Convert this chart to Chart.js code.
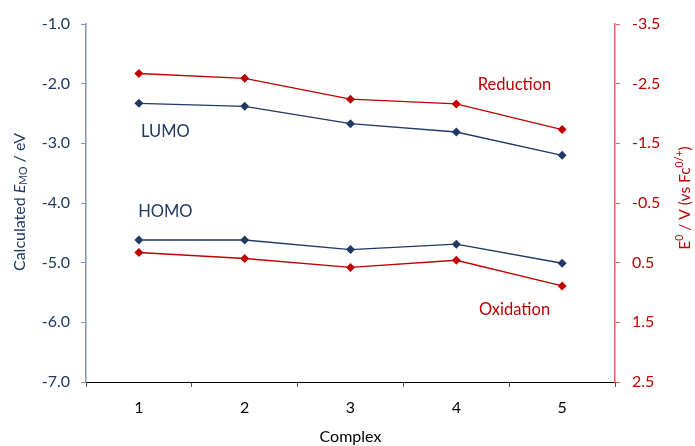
<!DOCTYPE html>
<html lang="en">
<head>
<meta charset="UTF-8">
<title>Calculated MO energies vs redox potentials</title>
<script src="https://cdn.jsdelivr.net/npm/chart.js"></script>
<style>
  html, body { margin: 0; padding: 0; background: #fff; }
  #wrap { width: 695px; height: 446px; }
</style>
</head>
<body>
<div id="wrap"><canvas id="chart" width="695" height="446"></canvas></div>
<script>
const complexes = ['1', '2', '3', '4', '5'];
const lumo = [-2.33, -2.38, -2.67, -2.81, -3.20];
const homo = [-4.62, -4.62, -4.78, -4.69, -5.01];
const reduction = [-2.67, -2.59, -2.24, -2.16, -1.73];
const oxidation = [0.33, 0.43, 0.58, 0.46, 0.89];
const leftTicks = [-1.0, -2.0, -3.0, -4.0, -5.0, -6.0, -7.0];
const rightTicks = [-3.5, -2.5, -1.5, -0.5, 0.5, 1.5, 2.5];

const NAVY = '#1f3864';
const RED = '#c00000';
const FONT = 'Lato, "Open Sans", sans-serif';

// draws a list of text runs [text, size, dy, italic]
function drawRuns(ctx, runs, x, y, color, align) {
  let total = 0;
  runs.forEach(r => {
    ctx.font = (r[3] ? 'italic ' : '') + r[1] + 'px ' + FONT;
    total += ctx.measureText(r[0]).width;
  });
  let cx = align === 'center' ? x - total / 2 : x;
  ctx.fillStyle = color;
  ctx.textBaseline = 'middle';
  ctx.textAlign = 'left';
  runs.forEach(r => {
    ctx.font = (r[3] ? 'italic ' : '') + r[1] + 'px ' + FONT;
    ctx.fillText(r[0], cx, y + r[2]);
    cx += ctx.measureText(r[0]).width;
  });
}

const labelsPlugin = {
  id: 'labels',
  afterDraw(chart) {
    const ctx = chart.ctx;
    const x = chart.scales.x, yl = chart.scales.y, yr = chart.scales.y2;
    ctx.save();
    // series labels
    drawRuns(ctx, [['LUMO', 16.5, 0]], x.getPixelForValue(0.25), yl.getPixelForValue(-2.81), NAVY, 'center');
    drawRuns(ctx, [['HOMO', 16.5, 0]], x.getPixelForValue(0.25), yl.getPixelForValue(-4.15), NAVY, 'center');
    drawRuns(ctx, [['Reduction', 16.5, 0]], x.getPixelForValue(3.55), yr.getPixelForValue(-2.49), RED, 'center');
    drawRuns(ctx, [['Oxidation', 16.5, 0]], x.getPixelForValue(3.55), yr.getPixelForValue(1.29), RED, 'center');

    // left axis title
    ctx.save();
    ctx.translate(20, (chart.chartArea.top + chart.chartArea.bottom) / 2 - 1);
    ctx.rotate(-Math.PI / 2);
    drawRuns(ctx, [['Calculated ', 16, 0], ['E', 16, 0, true], ['MO', 10.5, 4], [' / eV', 16, 0]], 0, 0, NAVY, 'center');
    ctx.restore();

    // right axis title
    ctx.save();
    ctx.translate(685, (chart.chartArea.top + chart.chartArea.bottom) / 2 - 5);
    ctx.rotate(-Math.PI / 2);
    drawRuns(ctx, [['E', 15.5, 0], ['0', 10.5, -5], [' / V (vs Fc', 15.5, 0], ['0/+', 10.5, -5], [')', 15.5, 0]], 0, 0, RED, 'center');
    ctx.restore();
    ctx.restore();
  }
};

function ds(label, data, color, axis) {
  return {
    label: label, data: data, yAxisID: axis,
    borderColor: color, backgroundColor: color,
    borderWidth: 1.3, pointStyle: 'rectRot', pointRadius: 4.5,
    pointBorderWidth: 0, tension: 0
  };
}

new Chart(document.getElementById('chart'), {
  type: 'line',
  data: {
    labels: complexes,
    datasets: [
      ds('LUMO', lumo, NAVY, 'y'),
      ds('HOMO', homo, NAVY, 'y'),
      ds('Reduction', reduction, RED, 'y2'),
      ds('Oxidation', oxidation, RED, 'y2')
    ]
  },
  options: {
    responsive: false,
    animation: false,
    layout: { padding: { top: 24, bottom: 0, left: 0, right: 0 } },
    plugins: { legend: { display: false }, tooltip: { enabled: false } },
    scales: {
      x: {
        offset: true,
        grid: { offset: true, drawOnChartArea: false, color: '#000', tickLength: 5, tickColor: '#555' },
        border: { color: '#000', width: 1 },
        ticks: { color: '#000', font: { family: FONT, size: 16 }, padding: 11 },
        title: { display: true, text: 'Complex', color: '#000', font: { family: FONT, size: 16 }, padding: { top: 2, bottom: 0 } },
        afterFit(s) { s.height = 64; }
      },
      y: {
        position: 'left',
        min: -7, max: -1,
        afterBuildTicks(s) { s.ticks = leftTicks.map(v => ({ value: v })); },
        grid: { drawOnChartArea: false, tickLength: 5, tickColor: '#8497b0' },
        border: { color: '#8497b0', width: 1.5 },
        ticks: { color: NAVY, font: { family: FONT, size: 16 }, padding: 11, callback: v => v.toFixed(1) },
        afterFit(s) { s.width = 86; }
      },
      y2: {
        position: 'right',
        min: -3.5, max: 2.5, reverse: true,
        afterBuildTicks(s) { s.ticks = rightTicks.map(v => ({ value: v })); },
        grid: { drawOnChartArea: false, tickLength: 5, tickColor: '#e06666' },
        border: { color: '#e06666', width: 1.5 },
        ticks: { color: RED, font: { family: FONT, size: 16 }, padding: 12, callback: v => v.toFixed(1) },
        afterFit(s) { s.width = 80; }
      }
    }
  },
  plugins: [labelsPlugin]
});
</script>
</body>
</html>
